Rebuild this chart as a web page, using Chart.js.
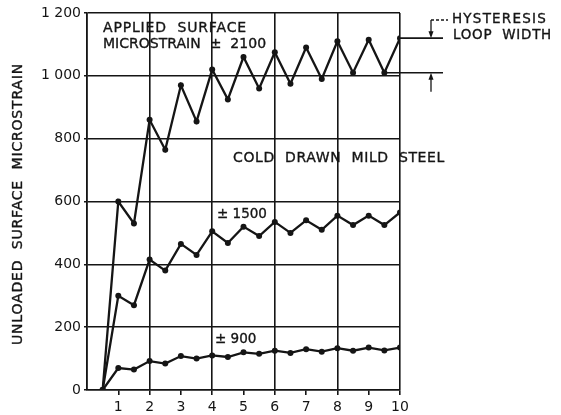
<!DOCTYPE html>
<html>
<head>
<meta charset="utf-8">
<script src="https://cdn.jsdelivr.net/npm/chart.js@4/dist/chart.umd.min.js"></script>
<style>
  html, body { margin: 0; padding: 0; background: #fff; }
  #wrap { width: 561px; height: 415px; position: relative; }
</style>
</head>
<body>
<div id="wrap"><canvas id="c"></canvas></div>
<script>
// Number of cycles (half-cycle steps)
const cycles = [0.5, 1, 1.5, 2, 2.5, 3, 3.5, 4, 4.5, 5, 5.5, 6, 6.5, 7, 7.5, 8, 8.5, 9, 9.5, 10];

// Unloaded surface microstrain for each applied strain amplitude
const strain2100 = [0, 600, 530, 860, 765, 970, 855, 1020, 925, 1060, 960, 1075, 975, 1090, 990, 1110, 1010, 1115, 1010, 1120];
const strain1500 = [0, 300, 270, 415, 380, 465, 430, 505, 468, 520, 490, 535, 500, 540, 510, 555, 525, 555, 525, 565];
const strain900  = [0, 70, 65, 92, 84, 108, 100, 110, 105, 120, 115, 125, 118, 130, 122, 133, 125, 135, 126, 135];

// Axis tick labels
const xTickLabels = ['', '1', '2', '3', '4', '5', '6', '7', '8', '9', '10'];
const yTickLabels = ['0', '200', '400', '600', '800', '1 000', '1 200'];

const ink = '#151515';
const FONT = '"DejaVu Sans", "Liberation Sans", sans-serif';

const toPoints = vals => cycles.map((c, i) => ({ x: c, y: vals[i] }));

const seriesStyle = {
  borderColor: ink,
  backgroundColor: ink,
  borderWidth: 2.3,
  pointRadius: 3,
  pointHoverRadius: 3,
  pointBorderWidth: 0,
  pointBackgroundColor: ink,
  tension: 0,
  fill: false
};

// Fit a string into a given width by spreading its letters
function spacedText(ctx, s, px, py, width, align) {
  ctx.letterSpacing = '0px';
  const w = ctx.measureText(s).width;
  const n = [...s].length;
  const sp = Math.max(0, (width - w) / n);
  ctx.letterSpacing = sp.toFixed(2) + 'px';
  ctx.textAlign = align || 'left';
  ctx.fillText(s, px, py);
  ctx.lineWidth = 0.35;
  ctx.strokeText(s, px, py);
  ctx.letterSpacing = '0px';
}

const annotations = {
  id: 'annotations',
  afterDatasetsDraw(chart) {
    const { ctx, scales: { x, y } } = chart;
    ctx.save();
    ctx.fillStyle = ink;
    ctx.strokeStyle = ink;
    ctx.textBaseline = 'alphabetic';

    // Axis title
    ctx.save();
    ctx.font = '14px ' + FONT;
    ctx.translate(18, 204);
    ctx.rotate(-Math.PI / 2);
    ctx.textBaseline = 'middle';
    spacedText(ctx, 'UNLOADED  SURFACE  MICROSTRAIN', -141, 0, 282, 'left');
    ctx.restore();

    // Curve labels
    ctx.font = '14px ' + FONT;
    spacedText(ctx, 'APPLIED  SURFACE', 103, 32, 144);
    spacedText(ctx, 'MICROSTRAIN  \u00B1  2100', 103, 48, 163);
    spacedText(ctx, 'COLD  DRAWN  MILD  STEEL', 233, 162, 212);
    ctx.font = '13.5px ' + FONT;
    spacedText(ctx, '\u00B1 1500', 217, 218, 46);
    spacedText(ctx, '\u00B1 900', 215, 343, 38);

    // Hysteresis loop width marker from the last two points of the top curve
    const n = cycles.length;
    const xHi = x.getPixelForValue(cycles[n - 1]);
    const yHi = y.getPixelForValue(strain2100[n - 1]);
    const xLo = x.getPixelForValue(cycles[n - 2]);
    const yLo = y.getPixelForValue(strain2100[n - 2]);
    const xr = 443;
    const xa = 431;
    ctx.lineWidth = 1.6;
    ctx.beginPath();
    ctx.moveTo(xHi, yHi); ctx.lineTo(xr, yHi);
    ctx.moveTo(xLo, yLo); ctx.lineTo(xr, yLo);
    ctx.stroke();

    // upper arrow (points down onto the top line)
    ctx.lineWidth = 1.3;
    ctx.beginPath();
    ctx.moveTo(xa, 20); ctx.lineTo(xa, yHi - 4);
    ctx.stroke();
    ctx.setLineDash([3, 2]);
    ctx.beginPath();
    ctx.moveTo(xa, 20); ctx.lineTo(448, 20);
    ctx.stroke();
    ctx.setLineDash([]);
    ctx.beginPath();
    ctx.moveTo(xa, yHi); ctx.lineTo(xa - 2.5, yHi - 7); ctx.lineTo(xa + 2.5, yHi - 7); ctx.closePath();
    ctx.fill();

    // lower arrow (points up onto the bottom line)
    ctx.beginPath();
    ctx.moveTo(xa, yLo + 4); ctx.lineTo(xa, yLo + 19);
    ctx.stroke();
    ctx.beginPath();
    ctx.moveTo(xa, yLo); ctx.lineTo(xa - 2.5, yLo + 7); ctx.lineTo(xa + 2.5, yLo + 7); ctx.closePath();
    ctx.fill();

    ctx.font = '13.5px ' + FONT;
    spacedText(ctx, 'HYSTERESIS', 452, 23, 95);
    spacedText(ctx, 'LOOP  WIDTH', 453, 39, 99);

    ctx.restore();
  }
};

new Chart(document.getElementById('c'), {
  type: 'line',
  data: {
    datasets: [
      Object.assign({ label: '\u00B1 2100', data: toPoints(strain2100) }, seriesStyle),
      Object.assign({ label: '\u00B1 1500', data: toPoints(strain1500) }, seriesStyle),
      Object.assign({ label: '\u00B1 900', data: toPoints(strain900) }, seriesStyle)
    ]
  },
  options: {
    responsive: true,
    maintainAspectRatio: false,
    animation: false,
    events: [],
    layout: { padding: { left: 0, right: 161, top: 13, bottom: 0 } },
    plugins: {
      legend: { display: false },
      tooltip: { enabled: false },
      title: { display: false }
    },
    scales: {
      x: {
        type: 'linear',
        min: 0,
        max: 10,
        afterFit: s => { s.height = 25; },
        ticks: {
          stepSize: 1,
          color: ink,
          font: { family: FONT, size: 14 },
          padding: 4,
          maxRotation: 0,
          autoSkip: false,
          callback: v => xTickLabels[v] !== undefined ? xTickLabels[v] : ''
        },
        grid: {
          color: c => (c.tick && c.tick.value % 2 === 0) ? ink : 'rgba(0,0,0,0)',
          tickColor: c => (c.tick && c.tick.value === 0) ? 'rgba(0,0,0,0)' : ink,
          lineWidth: 1.6,
          tickLength: 5
        },
        border: { display: true, color: ink, width: 1.6 }
      },
      y: {
        min: 0,
        max: 1200,
        afterFit: s => { s.width = 87; },
        ticks: {
          stepSize: 200,
          color: ink,
          font: { family: FONT, size: 14 },
          padding: 3,
          callback: v => yTickLabels[Math.round(v / 200)]
        },
        grid: {
          color: ink,
          lineWidth: 1.6,
          tickLength: 3
        },
        border: { display: true, color: ink, width: 1.6 }
      }
    }
  },
  plugins: [annotations]
});
</script>
</body>
</html>
